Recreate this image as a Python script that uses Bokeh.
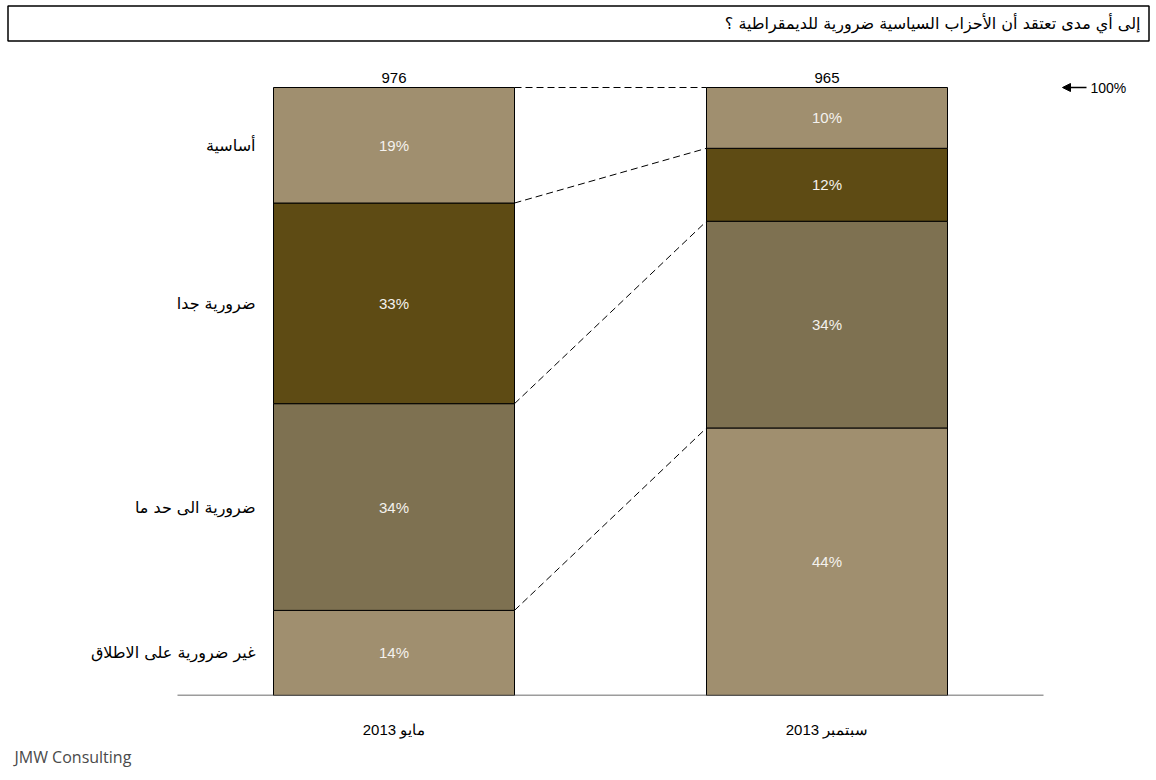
from bokeh.plotting import figure
from bokeh.models import Range1d, FixedTicker, Title, Arrow, NormalHead, ColumnDataSource
from bokeh.core.properties import value
from bokeh.embed import file_html
from bokeh.resources import INLINE

# ---------------- data ----------------
title_text = "إلى أي مدى تعتقد أن الأحزاب السياسية ضرورية للديمقراطية ؟"
categories = ["مايو 2013", "سبتمبر 2013"]
sample_sizes = [976, 965]
responses = ["غير ضرورية على الاطلاق", "ضرورية الى حد ما", "ضرورية جدا", "أساسية"]  # bottom -> top
may_2013 = [14, 34, 33, 19]
sep_2013 = [44, 34, 12, 10]
series = [may_2013, sep_2013]
colors = ["#A08F6F", "#7E7151", "#5E4B14", "#A08F6F"]
logo_text = "JMW Consulting"

# ---------------- layout helpers (page pixel -> data) ----------------
W, H = 1150, 778
FRAME_BOTTOM_PX = 695
X0_PX, PX_PER_X = 177.0, 433.0          # x=0 at page px 177
Y0_PX, PX_PER_Y = 695.0, 6.08           # y=0 at page px 695 ; 100 at 87


def X(px):
    return (px - X0_PX) / PX_PER_X


def Y(py):
    return (Y0_PX - py) / PX_PER_Y


FONT = value("Liberation Sans")
AR_FONT = value("DejaVu Sans")

p = figure(width=W, height=H, output_backend="svg", toolbar_location=None,
           x_range=Range1d(X(0), X(W)), y_range=Range1d(0, Y(0)),
           min_border_left=0, min_border_right=0, min_border_top=0,
           min_border_bottom=H - FRAME_BOTTOM_PX)
p.outline_line_color = None
p.grid.visible = False
p.yaxis.visible = False
p.background_fill_color = "white"

# ---------- x axis (category labels) ----------
xa = p.xaxis[0]
xa.ticker = FixedTicker(ticks=[0.5, 1.5])
xa.major_label_overrides = {0.5: categories[0], 1.5: categories[1]}
xa.axis_line_color = None
xa.major_tick_line_color = None
xa.minor_tick_line_color = None
xa.major_tick_out = 0
xa.major_tick_in = 0
xa.major_label_standoff = 25
xa.major_label_text_font = "Liberation Sans"
xa.major_label_text_font_size = "15px"
xa.major_label_text_color = "black"

# logo line below the axis
p.add_layout(Title(text=logo_text, align="left", offset=14, text_font="Open Sans",
                   text_font_size="16px", text_font_style="normal",
                   text_color="#4a4a4a", standoff=7), "below")

# ---------- stacked bars ----------
bar_w = 241.0 / PX_PER_X
centers = [0.5, 1.5]
bounds = []
for ci, vals in enumerate(series):
    bottoms, tops = [], []
    acc = 0
    for v in vals:
        bottoms.append(acc)
        acc += v
        tops.append(acc)
    bounds.append((bottoms, tops))
    src = ColumnDataSource(dict(
        left=[centers[ci] - bar_w / 2] * len(vals),
        right=[centers[ci] + bar_w / 2] * len(vals),
        bottom=bottoms, top=tops, color=colors,
        mid=[(b + t) / 2 for b, t in zip(bottoms, tops)],
        x=[centers[ci]] * len(vals),
        lab=[f"{v}%" for v in vals],
    ))
    p.quad(left="left", right="right", bottom="bottom", top="top", source=src,
           fill_color="color", line_color="black", line_width=1)
    p.text(x="x", y="mid", text="lab", source=src, text_color="#F4F2EE",
           text_font=FONT, text_font_size="15px", text_align="center",
           text_baseline="middle")

# sample sizes above bars
p.text(x=centers, y=[max(b[1]) for b in bounds], text=[str(n) for n in sample_sizes],
       text_font=FONT, text_font_size="15px", text_align="center",
       text_baseline="bottom", y_offset=-5, text_color="black")

# dashed connectors between segment boundaries
lt = bounds[0][1]
rt = bounds[1][1]
for k in range(len(lt)):
    p.segment(x0=[centers[0] + bar_w / 2], y0=[lt[k]],
              x1=[centers[1] - bar_w / 2], y1=[rt[k]],
              line_color="black", line_width=1, line_dash="7 4")

# baseline
p.segment(x0=[0], y0=[0], x1=[2], y1=[0], line_color="#3a3a3a", line_width=1.5)

# response labels at the left (centred on first bar's segments)
mids_left = [(b + t) / 2 for b, t in zip(*bounds[0])]
p.text(x=[X(255)] * len(responses), y=mids_left, text=responses,
       text_font=AR_FONT, text_font_size="16px", text_align="right",
       text_baseline="middle", text_color="black")

# 100% marker
p.add_layout(Arrow(x_start=X(1086), y_start=100, x_end=X(1062), y_end=100,
                   line_color="black", line_width=1.5,
                   end=NormalHead(size=8, fill_color="black", line_color="black")))
p.text(x=[X(1090)], y=[100], text=["100%"], text_font=FONT, text_font_size="14px",
       text_align="left", text_baseline="middle", text_color="black")

# question box at the top
p.quad(left=[X(7.5)], right=[X(1148.5)], bottom=[Y(40.5)], top=[Y(5.5)],
       fill_color="white", line_color="black", line_width=1.5)
p.text(x=[X(1140)], y=[Y(23)], text=[title_text], text_font=AR_FONT,
       text_font_size="16px", text_align="right", text_baseline="middle",
       text_color="black")

open("out.html", "w").write(file_html(p, INLINE))
